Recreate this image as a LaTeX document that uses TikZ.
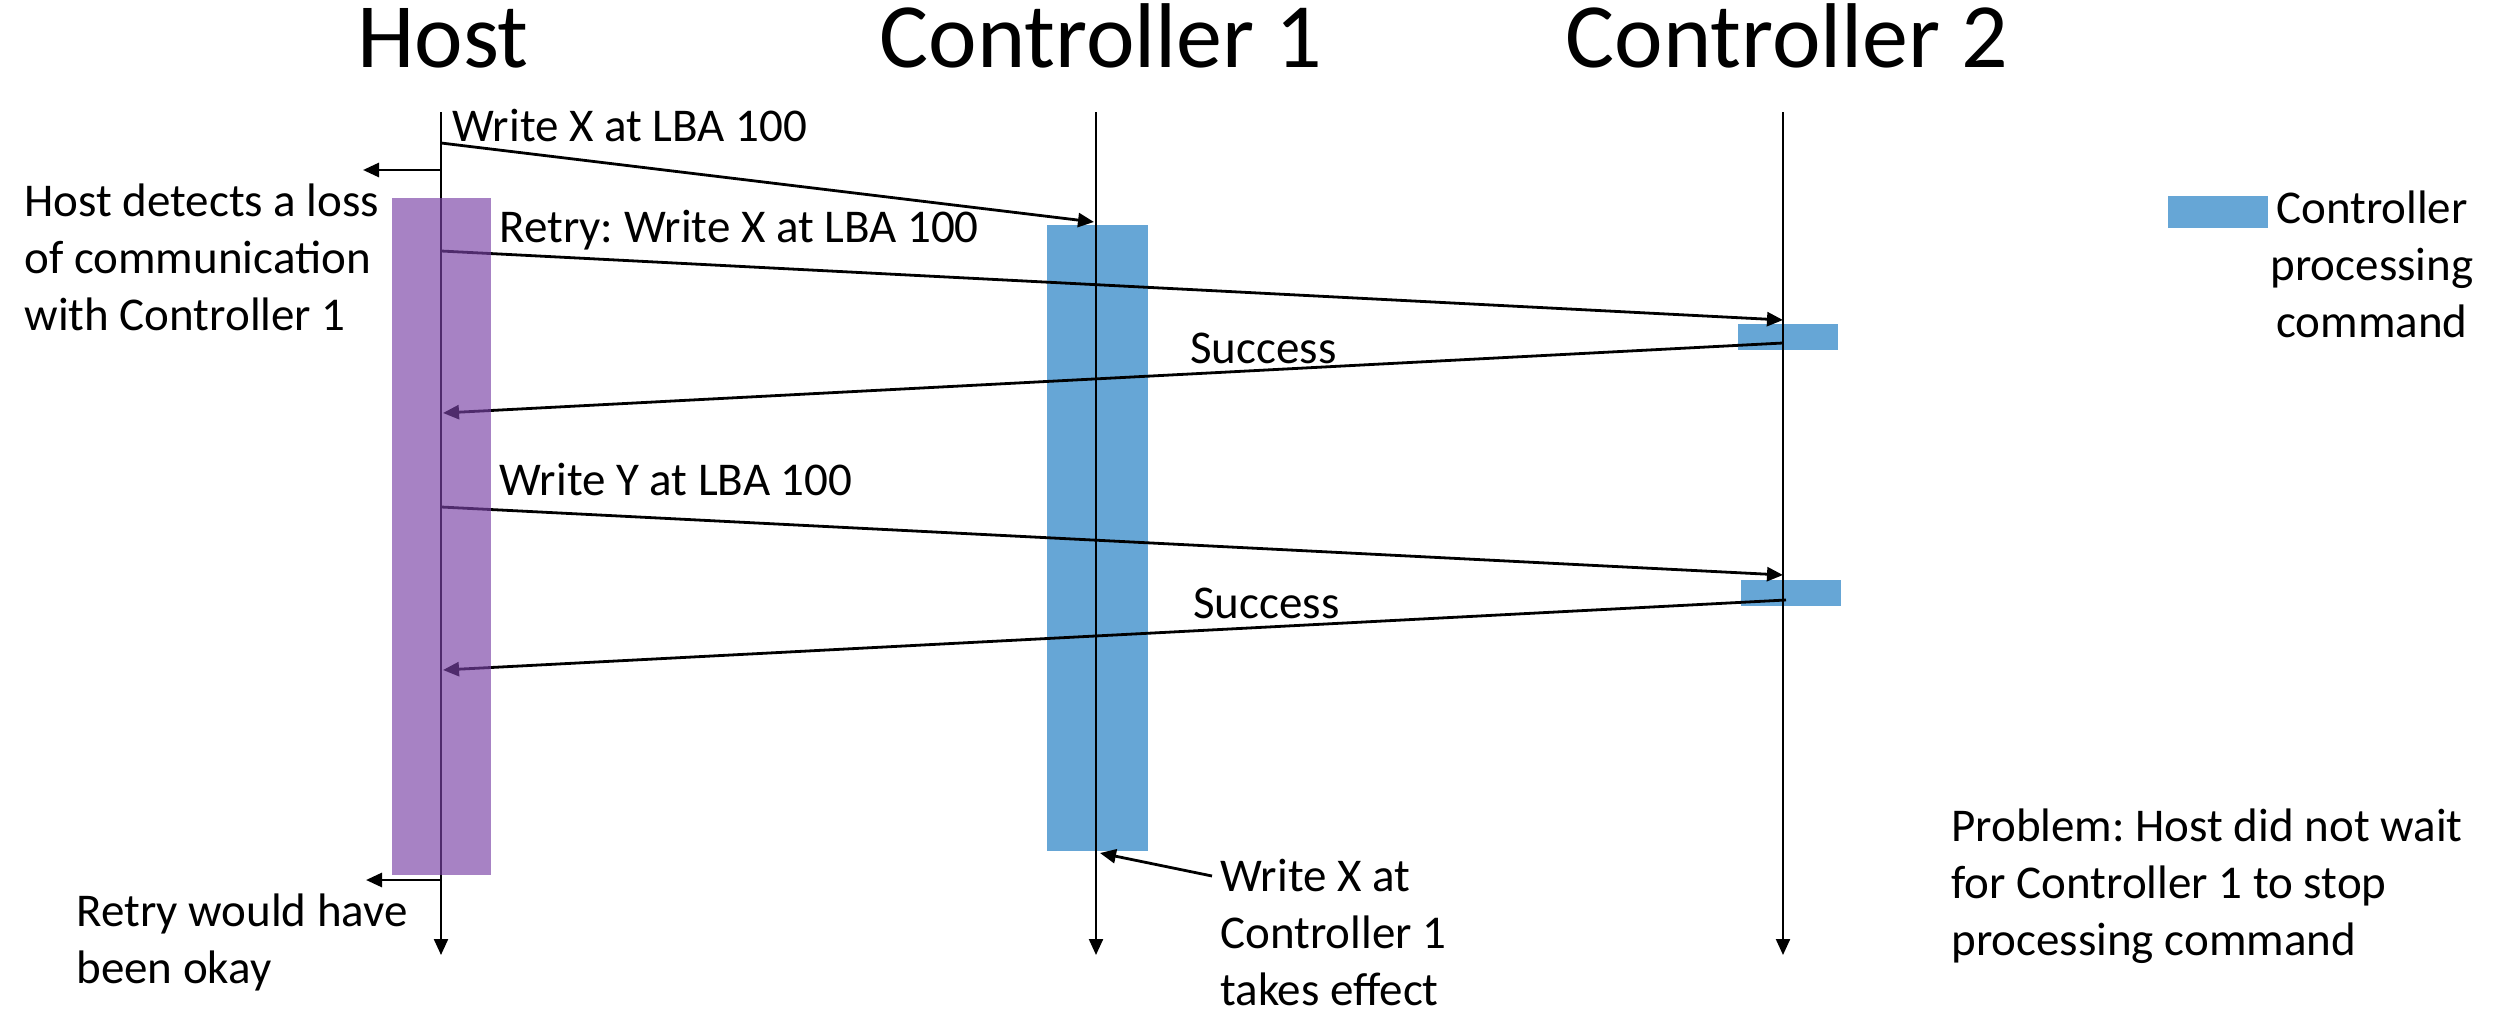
\documentclass[tikz,border=0pt]{standalone}
\usepackage{fontspec}
\setmainfont{Carlito}
\frenchspacing
\usetikzlibrary{arrows.meta}
\definecolor{cblue}{RGB}{102,166,214}
\definecolor{hpurple}{RGB}{121,66,165}
\tikzset{
  body/.style={font=\fontsize{23.5}{28.5}\selectfont, inner sep=0pt, align=left},
  title/.style={font=\fontsize{46}{52}\selectfont, inner sep=0pt, anchor=base},
  lifeline/.style={line width=1.1pt, -{Triangle[length=8pt,width=7pt]}},
  msg/.style={line width=1.4pt, -{Triangle[length=8pt,width=7pt]}},
  busy/.style={fill=cblue, draw=none},
}
\begin{document}
\begin{tikzpicture}[x=0.5pt,y=-0.5pt]
\useasboundingbox (0,0) rectangle (2501,1012);

% titles
\node[title] (thost) at (443,67) {Host};
\node[title] (tc1) at (1101,67) {Controller 1};
\node[title] (tc2) at (1787,67) {Controller 2};

% lifeline coordinates
\coordinate (h0) at (441,112);
\coordinate (h1) at (441,955);
\coordinate (a0) at (1096,112);
\coordinate (a1) at (1096,955);
\coordinate (b0) at (1783,112);
\coordinate (b1) at (1783,955);

% controller processing boxes
\node[busy, minimum width=50.5pt, minimum height=313pt, anchor=north west, inner sep=0pt] (c1box) at (1047,225) {};
\node[busy, minimum width=50pt, minimum height=13pt, anchor=north west, inner sep=0pt] (c2boxa) at (1738,324) {};
\node[busy, minimum width=50pt, minimum height=13pt, anchor=north west, inner sep=0pt] (c2boxb) at (1741,580) {};

% lifelines
\draw[lifeline] (h0) -- (h1);
\draw[lifeline] (a0) -- (a1);
\draw[lifeline] (b0) -- (b1);

% message endpoints
\coordinate (m1s) at (441,143);  \coordinate (m1e) at (1094,222);
\coordinate (l1s) at (441,170);  \coordinate (l1e) at (363,170);
\coordinate (m2s) at (441,251);  \coordinate (m2e) at (1783,320);
\coordinate (r1s) at (1783,343); \coordinate (r1e) at (443,413);
\coordinate (m3s) at (441,507);  \coordinate (m3e) at (1783,575);
\coordinate (r2s) at (1786,600); \coordinate (r2e) at (443,670);
\coordinate (l2s) at (442,880);  \coordinate (l2e) at (366,880);
\coordinate (efs) at (1212,876); \coordinate (efe) at (1100,853);

\draw[msg] (m1s) -- (m1e);
\draw[msg] (l1s) -- (l1e);
\draw[msg] (m2s) -- (m2e);
\draw[msg] (r1s) -- (r1e);
\draw[msg] (m3s) -- (m3e);
\draw[msg] (r2s) -- (r2e);
\draw[msg] (l2s) -- (l2e);
\draw[msg] (efs) -- (efe);

% host box (translucent, over lines)
\node[fill=hpurple, fill opacity=0.66, draw=none, minimum width=49.5pt, minimum height=338.5pt, anchor=north west, inner sep=0pt] (hostbox) at (392,198) {};

% legend
\node[busy, minimum width=50pt, minimum height=16pt, anchor=north west, inner sep=0pt] (legbox) at (2168,196) {};
\node[body, align=center, anchor=base] (legtxt) at (2372,337) {Controller\\processing\\command};

% labels (base anchor = last line baseline)
\node[body, anchor=base west] (lw1) at (452,141) {Write X at LBA 100};
\node[body, anchor=base west] (lloss) at (24,330) {Host detects a loss\\of communication\\with Controller 1};
\node[body, anchor=base west] (lretry) at (499,242) {Retry: Write X at LBA 100};
\node[body, anchor=base west] (ls1) at (1190,363) {Success};
\node[body, anchor=base west] (lwy) at (499,495) {Write Y at LBA 100};
\node[body, anchor=base west] (ls2) at (1193,618) {Success};
\node[body, anchor=base west] (lok) at (76,983) {Retry would have\\been okay};
\node[body, anchor=base west] (leff) at (1220,1005) {Write X at\\Controller 1\\takes effect};
\node[body, anchor=base west] (lprob) at (1951,955) {Problem: Host did not wait\\for Controller 1 to stop\\processing command};
\end{tikzpicture}
\end{document}
